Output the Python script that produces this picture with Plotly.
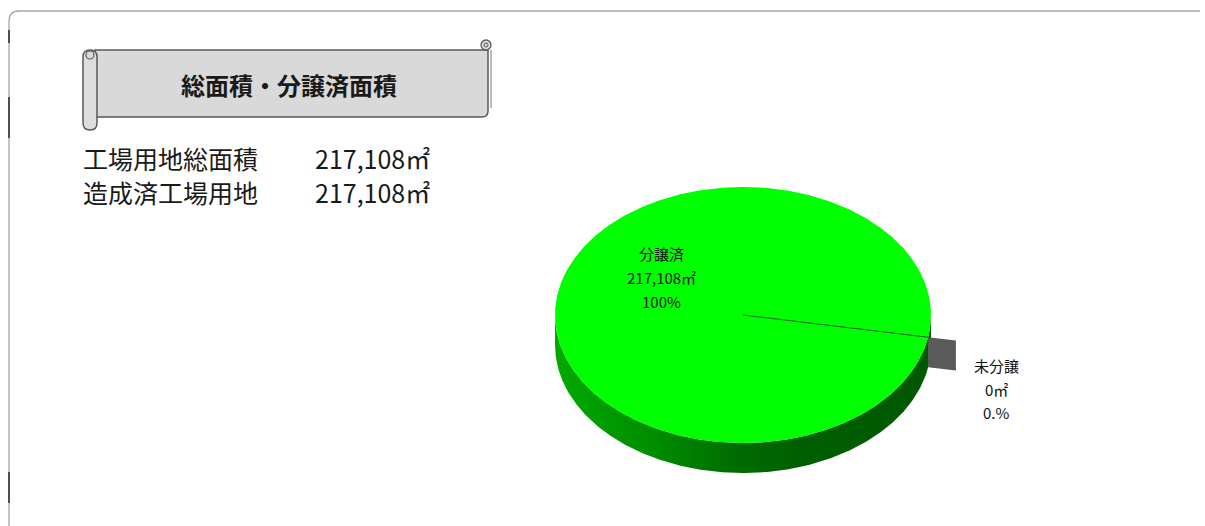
import numpy as np
import plotly.graph_objects as go

# ---------------- data ----------------
slice_labels = ["分譲済", "未分譲"]
slice_areas = [217108, 0]
slice_pct_text = ["100%", "0.%"]
slice_colors = ["#00FF00", "#5A5A5A"]
slice_explode = [0.0, 0.15]

info_labels = ["工場用地総面積", "造成済工場用地"]
info_values = [217108, 217108]
title_text = "総面積・分譲済面積"
unit = "㎡"

# ---------------- layout / geometry params ----------------
W, H = 1205, 526
CX, CY, RX, RY, DEPTH = 743, 315, 188, 128, 30
START_DEG = 10.0          # screen angle (clockwise from 3 o'clock) of first slice edge
FONT = "Noto Sans CJK JP"
SIDE_SCALE = [[0.0, "#00AA00"], [0.25, "#008E00"], [0.5, "#006A00"], [0.65, "#005E00"], [1.0, "#005800"]]

fig = go.Figure()


def ell(a_deg, r=1.0, off=(0.0, 0.0), dz=0.0):
    a = np.radians(a_deg)
    return (CX + off[0] + RX * r * np.cos(a), CY + off[1] + RY * r * np.sin(a) + dz)


total = float(sum(slice_areas))
cum = 0.0
slices = []
for lab, v, col, ex in zip(slice_labels, slice_areas, slice_colors, slice_explode):
    a0 = START_DEG + 360.0 * cum / total
    a1 = a0 + 360.0 * v / total
    mid = np.radians((a0 + a1) / 2.0)
    off = (ex * RX * np.cos(mid), ex * RY * np.sin(mid))
    slices.append(dict(label=lab, v=v, col=col, a0=a0, a1=a1, off=off, ex=ex))
    cum += v

# ---- side (depth) faces of the pie, front half only ----
for s in slices:
    if s["a1"] - s["a0"] <= 0:
        continue
    angs = np.linspace(s["a0"], s["a1"], 721)
    front = np.sin(np.radians(angs)) >= -1e-9
    runs, cur = [], []
    for a, f in zip(angs, front):
        if f:
            cur.append(a)
        elif cur:
            runs.append(cur)
            cur = []
    if cur:
        runs.append(cur)
    for run in runs:
        run = np.array(run)
        tx, ty = ell(run, off=s["off"])
        bx, by = ell(run[::-1], off=s["off"], dz=DEPTH)
        fig.add_trace(go.Scatter(
            x=np.concatenate([tx, bx, tx[:1]]), y=np.concatenate([ty, by, ty[:1]]),
            mode="lines", line=dict(width=0), fill="toself",
            fillgradient=dict(type="horizontal", colorscale=SIDE_SCALE,
                              start=CX - RX, stop=CX + RX),
            hoverinfo="skip", showlegend=False))

# ---- top faces ----
for s in slices:
    if s["a1"] - s["a0"] <= 0:
        continue
    angs = np.linspace(s["a0"], s["a1"], 721)
    ax, ay = ell(angs, off=s["off"])
    cx0, cy0 = CX + s["off"][0], CY + s["off"][1]
    fig.add_trace(go.Scatter(
        x=np.concatenate([[cx0], ax, [cx0]]), y=np.concatenate([[cy0], ay, [cy0]]),
        mode="lines", line=dict(width=0), fill="toself", fillcolor=s["col"],
        hoverinfo="skip", showlegend=False))

# ---- radial faces of exploded (zero-width) slices, outside the main disk ----
for s in slices:
    if s["ex"] <= 0:
        continue
    r_in, r_out = 1.0, 1.0 + s["ex"]
    p1 = ell(s["a0"], r=r_in)
    p2 = ell(s["a0"], r=r_out)
    fig.add_trace(go.Scatter(
        x=[p1[0], p2[0], p2[0], p1[0], p1[0]],
        y=[p1[1], p2[1], p2[1] + DEPTH, p1[1] + DEPTH, p1[1]],
        mode="lines", line=dict(width=0), fill="toself", fillcolor=s["col"],
        hoverinfo="skip", showlegend=False))

# ---- slice edge line on the top face ----
for s in slices:
    if s["v"] <= 0:
        continue
    e = ell(s["a0"])
    fig.add_trace(go.Scatter(x=[CX, e[0]], y=[CY, e[1]], mode="lines",
                             line=dict(color="#2E4A2E", width=0.9),
                             hoverinfo="skip", showlegend=False))

# ---- data labels ----
label_pos = [(661, 277, 24), (996, 389, 23.5)]
for s, pct, (lx, ly, dy) in zip(slices, slice_pct_text, label_pos):
    lines = [s["label"], f"{s['v']:,}{unit}", pct]
    for k, t in enumerate(lines):
        fig.add_annotation(x=lx, y=ly + (k - 1) * dy, text=t, showarrow=False,
                           xanchor="center", yanchor="middle",
                           font=dict(family=FONT, size=15, color="#111111"))

# ---- info lines ----
for k, (lab, val) in enumerate(zip(info_labels, info_values)):
    yy = 158 + k * 34
    fig.add_annotation(x=81, y=yy, text=lab, showarrow=False, xanchor="left", yanchor="middle",
                       font=dict(family=FONT, size=25, color="#1A1A1A"))
    fig.add_annotation(x=313, y=yy, text=f"{val:,}{unit}", showarrow=False, xanchor="left",
                       yanchor="middle", font=dict(family=FONT, size=25, color="#1A1A1A"))

# ---- title scroll banner ----
shapes = []
lc = "#5A5A5A"
shapes.append(dict(type="path", xref="x", yref="y",
                   path="M 95 50 L 488 50 L 488 111 Q 488 117 482 117 L 95 117 Z",
                   fillcolor="#D9D9D9", line=dict(color=lc, width=1.5), layer="above"))
shapes.append(dict(type="line", xref="x", yref="y", x0=491, y0=50, x1=491, y1=108,
                   line=dict(color="#8C8C8C", width=1.2), layer="above"))
shapes.append(dict(type="circle", xref="x", yref="y", x0=481, y0=40, x1=491, y1=50,
                   fillcolor="#D9D9D9", line=dict(color=lc, width=1.3), layer="above"))
shapes.append(dict(type="circle", xref="x", yref="y", x0=484, y0=43, x1=488, y1=47,
                   fillcolor="#D9D9D9", line=dict(color=lc, width=1), layer="above"))
shapes.append(dict(type="path", xref="x", yref="y",
                   path="M 83 57 Q 83 50 90 50 Q 97 50 97 57 L 97 123 Q 97 130 90 130 Q 83 130 83 123 Z",
                   fillcolor="#DEDEDE", line=dict(color=lc, width=1.5), layer="above"))
shapes.append(dict(type="circle", xref="x", yref="y", x0=86, y0=51, x1=94, y1=59,
                   fillcolor="#D9D9D9", line=dict(color=lc, width=1.2), layer="above"))
# outer chart border
shapes.append(dict(type="path", xref="x", yref="y",
                   path="M 9 530 L 9 21 Q 9 11 19 11 L 1200 11",
                   line=dict(color="#A6A6A6", width=1.3), layer="above"))
for y0, y1 in [(30, 43), (97, 138), (472, 503)]:
    shapes.append(dict(type="line", xref="x", yref="y", x0=9, y0=y0, x1=9, y1=y1,
                       line=dict(color="#333333", width=1.6), layer="above"))

fig.add_annotation(x=289, y=84, text=f"<b>{title_text}</b>", showarrow=False,
                   xanchor="center", yanchor="middle",
                   font=dict(family=FONT, size=24, color="#1A1A1A"))

fig.update_layout(
    width=W, height=H, margin=dict(l=0, r=0, t=0, b=0),
    paper_bgcolor="white", plot_bgcolor="white", showlegend=False, shapes=shapes,
    xaxis=dict(range=[0, W], visible=False, fixedrange=True),
    yaxis=dict(range=[H, 0], visible=False, fixedrange=True),
)

fig.write_html("out.html", config={"displayModeBar": False},
               post_script="document.body.style.margin='0';document.body.style.overflow='hidden';")
